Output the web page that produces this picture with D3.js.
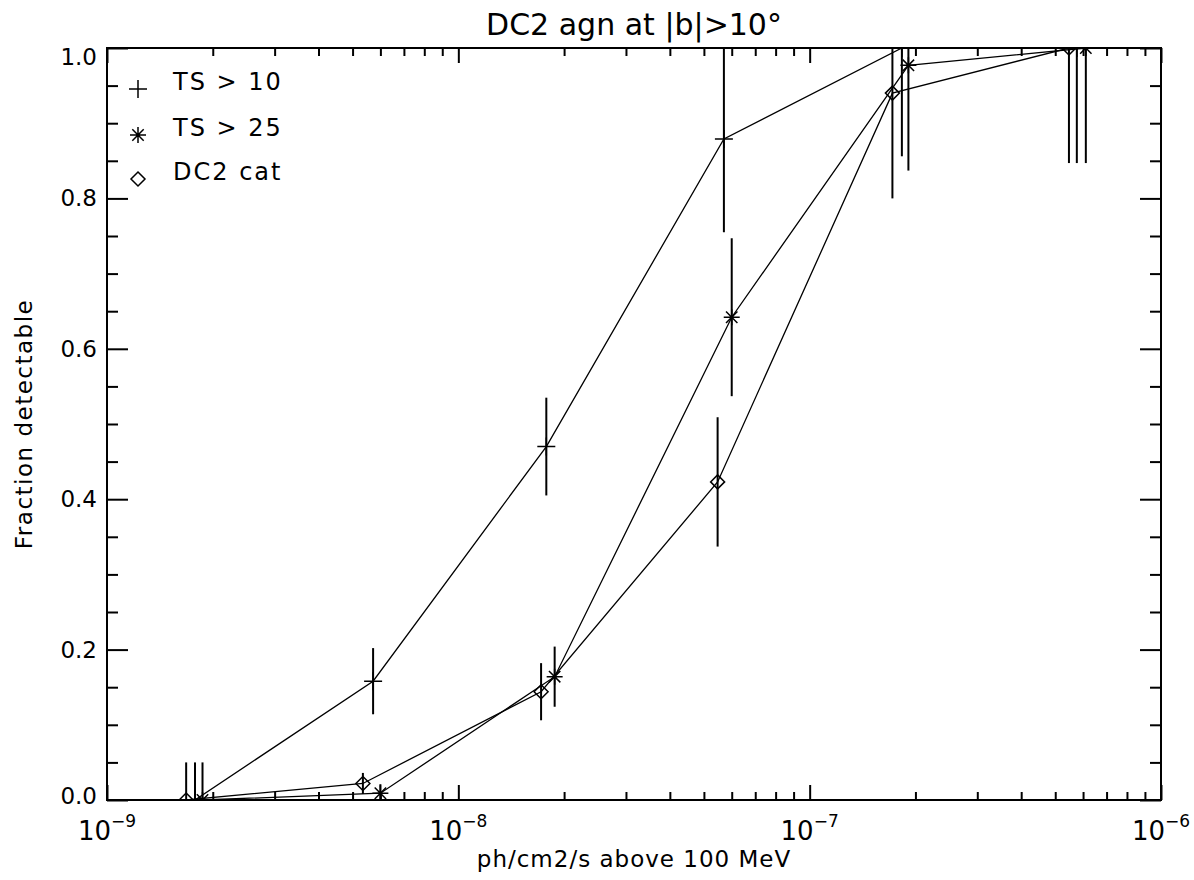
<!DOCTYPE html>
<html>
<head>
<meta charset="utf-8">
<script src="https://cdn.jsdelivr.net/npm/d3@7"></script>
<style>
  body { margin: 0; background: #fff; }
  svg text { font-family: "DejaVu Sans", sans-serif; fill: #000; }
</style>
</head>
<body>
<div id="chart"></div>
<script>
/* DC2 agn detectability: fraction detectable vs integral flux, three
   selections with symmetric error bars, IDL-style boxed axes. */

// TS > 10 (plus)
var plusX = [1.78e-9, 5.72e-9, 1.78e-8, 5.70e-8, 1.83e-7, 5.76e-7];
var plusY = [0.0, 0.158, 0.470, 0.879, 1.0, 1.0];
var plusErr = [0.05, 0.044, 0.065, 0.124, 0.144, 0.153];

// TS > 25 (asterisk)
var starX = [1.87e-9, 6.0e-9, 1.88e-8, 6.0e-8, 1.91e-7, 6.11e-7];
var starY = [0.0, 0.009, 0.164, 0.642, 0.977, 1.0];
var starErr = [0.05, 0.012, 0.04, 0.105, 0.14, 0.153];

// DC2 cat (diamond)
var diaX = [1.68e-9, 5.35e-9, 1.72e-8, 5.47e-8, 1.72e-7, 5.47e-7];
var diaY = [0.0, 0.022, 0.144, 0.423, 0.94, 1.0];
var diaErr = [0.05, 0.014, 0.038, 0.086, 0.14, 0.153];

var legendLabels = ["TS > 10", "TS > 25", "DC2 cat"];
var yTicks = [0, 0.2, 0.4, 0.6, 0.8, 1.0];
var yTickLabels = ["0.0", "0.2", "0.4", "0.6", "0.8", "1.0"];
var xTicks = [1e-9, 1e-8, 1e-7, 1e-6];
var xTickExp = ["\u22129", "\u22128", "\u22127", "\u22126"];

(function () {
  var W = 1194, H = 880;
  var L = 107, R = 1161, T = 48, B = 800;
  var svg = d3.select("#chart").append("svg")
    .attr("width", W).attr("height", H);

  var x = d3.scaleLog().domain([1e-9, 1e-6]).range([L, R]);
  var y = d3.scaleLinear().domain([0, 1]).range([B, T]);

  var xMinor = [];
  for (var e = -9; e < -6; e++)
    for (var k = 2; k < 10; k++) xMinor.push(k * Math.pow(10, e));
  var yMinor = d3.range(0, 1.0001, 0.05).filter(function (v) {
    return Math.abs(v * 5 - Math.round(v * 5)) > 1e-6;
  });

  function axisLayer(axis, tx, ty) {
    var g = svg.append("g").attr("transform", "translate(" + tx + "," + ty + ")")
      .call(axis.tickSizeOuter(0).tickFormat(""));
    g.select(".domain").remove();
    g.selectAll(".tick line").attr("stroke", "#000").attr("stroke-width", 2);
  }
  var xMaj = 15, xMin = 8, yMaj = 21, yMin = 11;
  axisLayer(d3.axisBottom(x).tickValues(xTicks).tickSizeInner(-xMaj), 0, B);
  axisLayer(d3.axisBottom(x).tickValues(xMinor).tickSizeInner(-xMin), 0, B);
  axisLayer(d3.axisTop(x).tickValues(xTicks).tickSizeInner(-xMaj), 0, T);
  axisLayer(d3.axisTop(x).tickValues(xMinor).tickSizeInner(-xMin), 0, T);
  axisLayer(d3.axisLeft(y).tickValues(yTicks).tickSizeInner(-yMaj), L, 0);
  axisLayer(d3.axisLeft(y).tickValues(yMinor).tickSizeInner(-yMin), L, 0);
  axisLayer(d3.axisRight(y).tickValues(yTicks).tickSizeInner(-yMaj), R, 0);
  axisLayer(d3.axisRight(y).tickValues(yMinor).tickSizeInner(-yMin), R, 0);

  svg.append("rect").attr("x", L).attr("y", T)
    .attr("width", R - L).attr("height", B - T)
    .attr("fill", "none").attr("stroke", "#000").attr("stroke-width", 2);

  // tick labels
  svg.append("g").selectAll("text").data(yTicks).join("text")
    .attr("x", L - 10)
    .attr("y", function (d) {
      return Math.min(Math.max(y(d), T + 9), B - 4) + 8;
    })
    .attr("text-anchor", "end").attr("font-size", "23px")
    .text(function (d, i) { return yTickLabels[i]; });

  var xl = svg.append("g").selectAll("text").data(xTicks).join("text")
    .attr("x", function (d) { return x(d); }).attr("y", 840)
    .attr("text-anchor", "middle").attr("font-size", "26px");
  xl.append("tspan").text("10");
  xl.append("tspan").attr("font-size", "17px").attr("dy", -13)
    .text(function (d, i) { return xTickExp[i]; });

  // titles
  svg.append("text").attr("x", (L + R) / 2).attr("y", 35)
    .attr("text-anchor", "middle").attr("font-size", "30px")
    .text("DC2 agn at |b|>10\u00b0");
  svg.append("text").attr("x", (L + R) / 2).attr("y", 867)
    .attr("text-anchor", "middle").attr("font-size", "23px")
    .attr("letter-spacing", "1px")
    .text("ph/cm2/s above 100 MeV");
  svg.append("text").attr("transform", "translate(32," + ((T + B) / 2) + ") rotate(-90)")
    .attr("text-anchor", "middle").attr("font-size", "23px")
    .attr("letter-spacing", "1.5px")
    .text("Fraction detectable");

  // symbols
  var sym = {
    plus: "M-9,0H9M0,-9V9",
    star: "M0,-8V8M-8,0H8M-5.7,-5.7L5.7,5.7M-5.7,5.7L5.7,-5.7",
    diamond: "M0,-7L7,0L0,7L-7,0Z"
  };
  var series = [
    { xs: plusX, ys: plusY, err: plusErr, s: sym.plus },
    { xs: starX, ys: starY, err: starErr, s: sym.star },
    { xs: diaX, ys: diaY, err: diaErr, s: sym.diamond }
  ];

  svg.append("clipPath").attr("id", "plotClip").append("rect")
    .attr("x", L).attr("y", T).attr("width", R - L).attr("height", B - T);
  var plot = svg.append("g").attr("clip-path", "url(#plotClip)");
  var line = d3.line().x(function (d) { return x(d[0]); })
    .y(function (d) { return y(d[1]); });

  series.forEach(function (sr) {
    var pts = sr.xs.map(function (v, i) { return [v, sr.ys[i], sr.err[i]]; });
    plot.append("path").datum(pts).attr("d", line)
      .attr("fill", "none").attr("stroke", "#000").attr("stroke-width", 1.3);
    plot.append("g").selectAll("line").data(pts).join("line")
      .attr("x1", function (d) { return x(d[0]); })
      .attr("x2", function (d) { return x(d[0]); })
      .attr("y1", function (d) { return y(d[1] - d[2]); })
      .attr("y2", function (d) { return y(d[1] + d[2]); })
      .attr("stroke", "#000").attr("stroke-width", 2);
    plot.append("g").selectAll("path").data(pts).join("path")
      .attr("transform", function (d) {
        return "translate(" + x(d[0]) + "," + y(d[1]) + ")";
      })
      .attr("d", sr.s).attr("fill", "none")
      .attr("stroke", "#000").attr("stroke-width", 1.5);
  });

  // legend
  var leg = svg.append("g").selectAll("g").data(series).join("g")
    .attr("transform", function (d, i) {
      return "translate(138," + [89, 135, 179][i] + ")";
    });
  leg.append("path").attr("d", function (d) { return d.s; })
    .attr("fill", "none").attr("stroke", "#000").attr("stroke-width", 1.5);
  leg.append("text").attr("x", 35).attr("y", 1)
    .attr("font-size", "24px").attr("letter-spacing", "2px")
    .text(function (d, i) { return legendLabels[i]; });
})();
</script>
</body>
</html>
